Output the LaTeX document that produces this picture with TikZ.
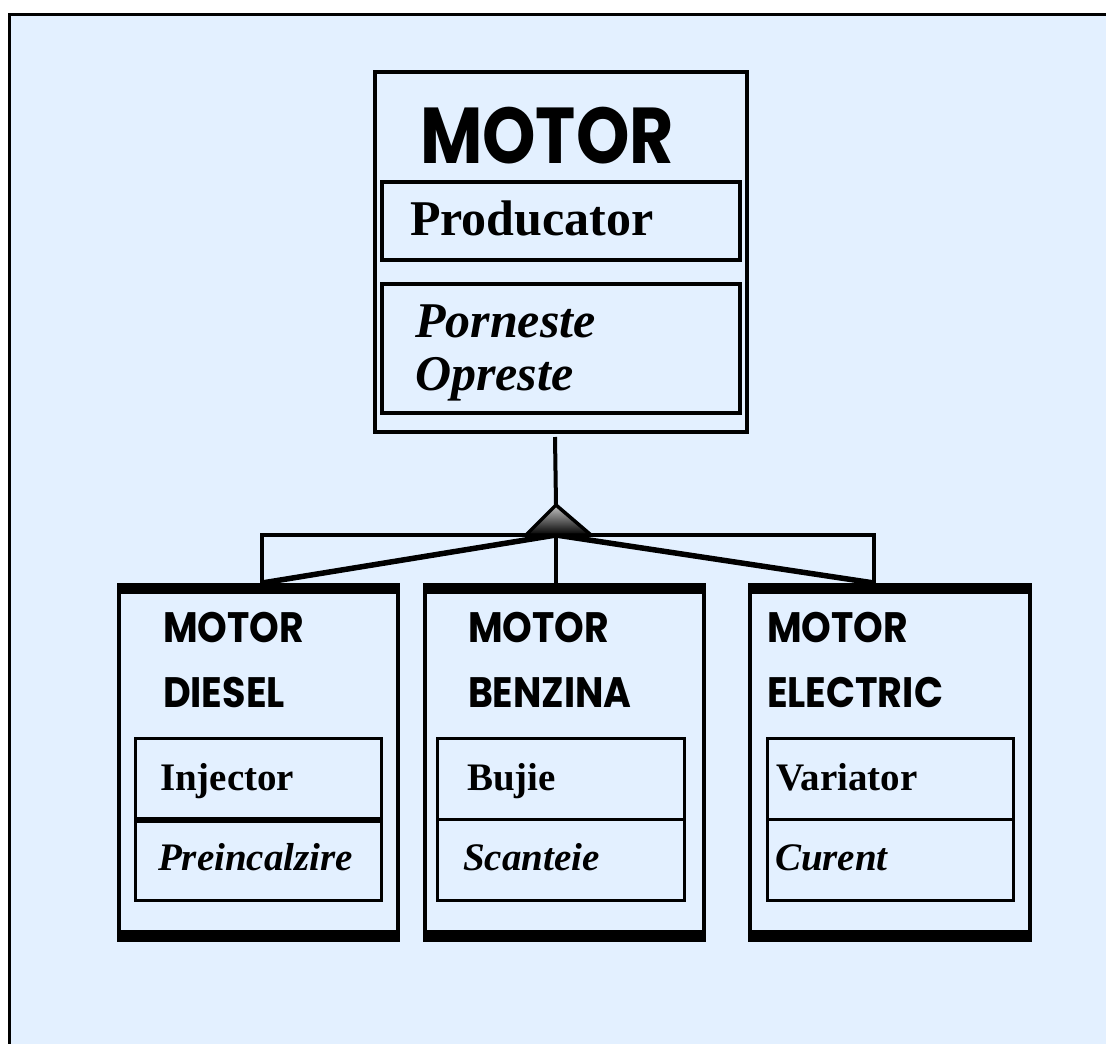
\documentclass[tikz,border=0pt]{standalone}
\usepackage{fontspec}
\usepackage{graphicx}
\setmainfont{Liberation Serif}
\newfontfamily\ttlfont{Poppins}
\usetikzlibrary{calc}
\definecolor{bgblue}{RGB}{227,240,255}
\tikzset{
  frame/.style={draw=black, line width=3.5pt, inner sep=0pt, outer sep=0pt},
  cbox/.style={draw=black, line width=4.5pt, inner sep=0pt, outer sep=0pt, minimum width=279pt, minimum height=355pt},
  ibox/.style={draw=black, line width=3pt, inner sep=0pt, outer sep=0pt},
  txt/.style={anchor=base west, inner sep=0pt, outer sep=0pt},
  bigttl/.style={txt, font=\fontsize{66}{66}\selectfont\ttlfont\bfseries},
  smallttl/.style={txt, font=\fontsize{37}{37}\selectfont\ttlfont\bfseries},
  bigattr/.style={txt, font=\fontsize{50}{50}\selectfont\bfseries},
  bigmeth/.style={txt, font=\fontsize{50}{50}\selectfont\bfseries\itshape},
  smattr/.style={txt, font=\fontsize{39}{39}\selectfont\bfseries},
  smmeth/.style={txt, font=\fontsize{39}{39}\selectfont\bfseries\itshape},
  conn/.style={draw=black, line width=4pt},
  diag/.style={draw=black, line width=5.5pt}
}
\begin{document}
\begin{tikzpicture}[x=1pt,y=-1pt]
\useasboundingbox (0,0) rectangle (1106,1044);
\fill[white] (0,0) rectangle (1106,1044);
\fill[bgblue] (9.5,14.5) rectangle (1112,1050);
\draw[line width=3.5pt] (9.5,1050) -- (9.5,14.5) -- (1112,14.5);

% top class
\node[frame, minimum width=372pt, minimum height=360pt] (top) at (561,252) {};
\node[frame, line width=4pt, minimum width=358pt, minimum height=78pt] (topattr) at (561,221) {};
\node[frame, line width=4pt, minimum width=358pt, minimum height=129pt] (topmeth) at (561,348.5) {};
\node[bigttl] (toptitle) at (420,163) {\scalebox{1.03}[1.2]{MOTOR}};
\node[bigattr] (producator) at (410,235) {Producator};
\node[bigmeth] (porneste) at (415,337) {Porneste};
\node[bigmeth] (opreste) at (415,390) {Opreste};

% bottom classes
\node[cbox] (diesel) at (258.5,762.5) {};
\node[cbox] (benzina) at (564.5,762.5) {};
\node[cbox, minimum width=280pt] (electric) at (890,762.5) {};
\foreach \n in {diesel,benzina,electric}{
  \fill ($( \n.north west)+(-2.25,-2.25)$) rectangle ($( \n.north east)+(2.25,9)$);
  \fill ($( \n.south west)+(-2.25,-10)$) rectangle ($( \n.south east)+(2.25,2.25)$);
}
% inner boxes
\node[ibox, minimum width=246pt, minimum height=80pt] (dattr) at (258,778) {};
\node[ibox, minimum width=246pt, minimum height=79pt] (dmeth) at (258,860.5) {};
\node[ibox, minimum width=247pt, minimum height=81pt] (battr) at (560.5,778.5) {};
\node[ibox, minimum width=247pt, minimum height=81pt] (bmeth) at (560.5,859.5) {};
\node[ibox, minimum width=246pt, minimum height=81pt] (eattr) at (890,778.5) {};
\node[ibox, minimum width=246pt, minimum height=81pt] (emeth) at (890,859.5) {};

\node[smallttl] (dt1) at (163,642) {\scalebox{1.02}[1.15]{MOTOR}};
\node[smallttl] (dt2) at (163,707) {\scalebox{1.03}[1.15]{DIESEL}};
\node[smallttl] (bt1) at (468,642) {\scalebox{1.02}[1.15]{MOTOR}};
\node[smallttl] (bt2) at (468,707) {\scalebox{1.02}[1.15]{BENZINA}};
\node[smallttl] (et1) at (767,642) {\scalebox{1.02}[1.15]{MOTOR}};
\node[smallttl] (et2) at (767,707) {\scalebox{1.03}[1.15]{ELECTRIC}};

\node[smattr] (injector) at (160,790) {Injector};
\node[smmeth] (preinc) at (158,870) {Preincalzire};
\node[smattr] (bujie) at (467,790) {Bujie};
\node[smmeth] (scanteie) at (463,870) {Scanteie};
\node[smattr] (variator) at (776,790) {Variator};
\node[smmeth] (curent) at (775,870) {Curent};

% connectors
\coordinate (stem) at ($(top.south)+(-6,5)$);
\coordinate (apex) at (556,505);
\coordinate (tbl) at (526,535);
\coordinate (tbr) at (591,535);
\coordinate (tri) at (556,535);
\coordinate (dtop) at ($(diesel.north)+(3.5,-2)$);
\coordinate (btop) at ($(benzina.north)+(-8.5,-2)$);
\coordinate (etop) at ($(electric.north)+(-16,-2)$);

\draw[conn] (stem) -- (apex);
\draw[conn] (dtop) -- (dtop |- tri) -- (etop |- tri) -- (etop);
\draw[conn] (tri) -- (btop);
\draw[diag] (tri) -- (dtop);
\draw[diag] (tri) -- (etop);
\shade[top color=gray!45, bottom color=black, draw=black, line width=3.5pt, line join=miter] (apex) -- (tbl) -- (tbr) -- cycle;
\end{tikzpicture}
\end{document}
